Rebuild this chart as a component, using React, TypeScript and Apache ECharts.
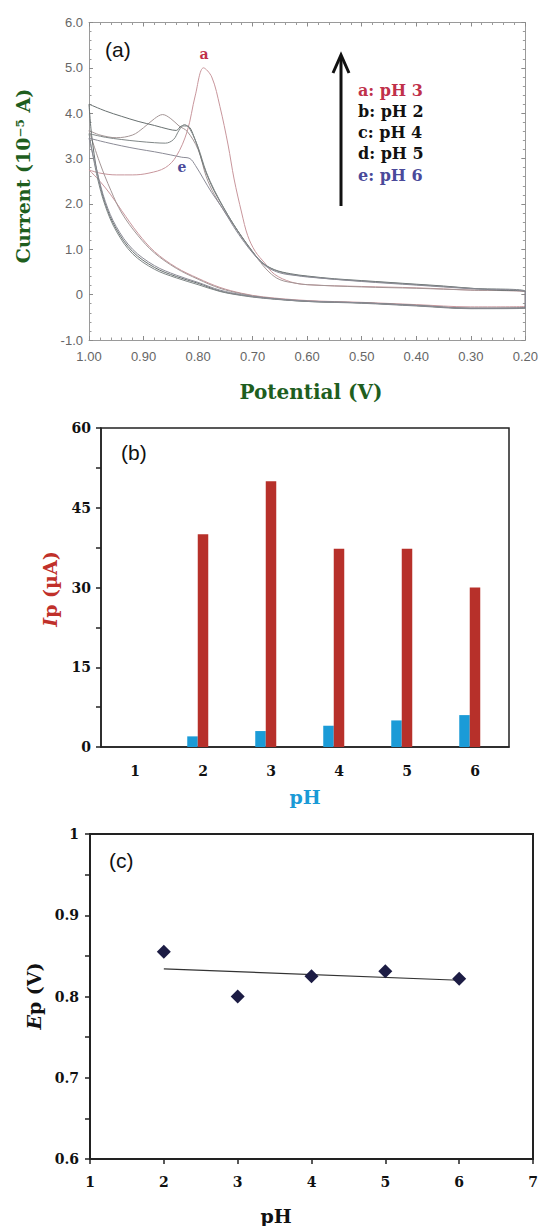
import React, { useEffect, useRef } from "react";
import * as echarts from "echarts";

// ---------- Panel (a): cyclic voltammograms [Potential (V), Current (1e-5 A)] ----------
const cvA_pH3: number[][] = [
  [1.0, 2.75], [0.98, 2.68], [0.95, 2.64], [0.92, 2.64], [0.89, 2.68], [0.86, 2.8], [0.84, 3.05],
  [0.82, 3.6], [0.805, 4.4], [0.79, 5.0], [0.775, 4.8], [0.76, 4.15], [0.745, 3.3], [0.734, 2.55],
  [0.72, 1.8], [0.709, 1.3], [0.695, 0.95], [0.678, 0.7], [0.66, 0.45], [0.63, 0.28], [0.6, 0.22],
  [0.5, 0.18], [0.4, 0.15], [0.3, 0.1], [0.2, 0.06],
  [0.2, -0.26], [0.3, -0.27], [0.4, -0.22], [0.5, -0.17], [0.6, -0.13], [0.68, -0.05], [0.72, 0.03],
  [0.76, 0.16], [0.8, 0.36], [0.84, 0.6], [0.88, 0.95], [0.91, 1.35], [0.94, 1.85], [0.96, 2.2],
  [0.98, 2.5], [1.0, 2.75],
];
const cvB_pH2: number[][] = [
  [1.0, 3.62], [0.98, 3.52], [0.95, 3.46], [0.92, 3.52], [0.9, 3.68], [0.88, 3.88], [0.865, 3.97],
  [0.85, 3.88], [0.835, 3.72], [0.82, 3.6], [0.8, 3.2], [0.785, 2.6], [0.77, 2.2], [0.75, 1.8],
  [0.73, 1.45], [0.71, 1.1], [0.69, 0.78], [0.67, 0.5], [0.65, 0.33], [0.62, 0.25], [0.6, 0.22],
  [0.5, 0.17], [0.4, 0.14], [0.3, 0.1], [0.2, 0.06],
  [0.2, -0.3], [0.3, -0.3], [0.4, -0.23], [0.5, -0.18], [0.6, -0.14], [0.68, -0.06], [0.72, 0.02],
  [0.76, 0.14], [0.8, 0.34], [0.84, 0.58], [0.88, 0.92], [0.91, 1.3], [0.94, 1.8], [0.96, 2.3],
  [0.98, 2.9], [1.0, 3.62],
];
const cvC_pH4: number[][] = [
  [1.0, 4.2], [0.97, 4.05], [0.94, 3.93], [0.91, 3.82], [0.88, 3.73], [0.855, 3.65], [0.84, 3.62],
  [0.83, 3.72], [0.82, 3.72], [0.805, 3.4], [0.79, 2.85], [0.775, 2.4], [0.755, 1.95], [0.735, 1.55],
  [0.72, 1.28], [0.7, 0.95], [0.684, 0.72], [0.66, 0.55], [0.63, 0.46], [0.6, 0.41], [0.55, 0.35],
  [0.5, 0.31], [0.45, 0.27], [0.4, 0.23], [0.35, 0.19], [0.3, 0.14], [0.25, 0.1], [0.2, 0.07],
  [0.2, -0.28], [0.3, -0.3], [0.4, -0.24], [0.5, -0.18], [0.6, -0.15], [0.68, -0.07], [0.72, -0.01],
  [0.76, 0.08], [0.8, 0.25], [0.84, 0.4], [0.88, 0.6], [0.92, 0.95], [0.95, 1.45], [0.97, 2.0],
  [0.985, 2.7], [0.995, 3.5], [1.0, 4.2],
];
const cvD_pH5: number[][] = [
  [1.0, 3.55], [0.97, 3.47], [0.94, 3.42], [0.91, 3.38], [0.88, 3.35], [0.86, 3.34], [0.845, 3.42],
  [0.835, 3.62], [0.825, 3.75], [0.815, 3.65], [0.8, 3.25], [0.785, 2.7], [0.77, 2.3], [0.75, 1.85],
  [0.73, 1.45], [0.71, 1.1], [0.69, 0.8], [0.67, 0.6], [0.64, 0.47], [0.6, 0.4], [0.55, 0.34],
  [0.5, 0.3], [0.4, 0.22], [0.3, 0.14], [0.2, 0.07],
  [0.2, -0.3], [0.3, -0.31], [0.4, -0.25], [0.5, -0.19], [0.6, -0.15], [0.68, -0.08], [0.72, -0.02],
  [0.76, 0.07], [0.8, 0.22], [0.84, 0.37], [0.88, 0.56], [0.92, 0.9], [0.95, 1.4], [0.97, 1.95],
  [0.985, 2.6], [1.0, 3.55],
];
const cvE_pH6: number[][] = [
  [1.0, 3.45], [0.97, 3.36], [0.94, 3.28], [0.91, 3.21], [0.88, 3.15], [0.85, 3.08], [0.83, 3.03],
  [0.815, 3.0], [0.805, 2.85], [0.79, 2.55], [0.775, 2.25], [0.755, 1.9], [0.735, 1.5], [0.715, 1.15],
  [0.695, 0.85], [0.675, 0.62], [0.65, 0.48], [0.62, 0.42], [0.6, 0.39], [0.5, 0.29], [0.4, 0.21],
  [0.3, 0.13], [0.2, 0.06],
  [0.2, -0.29], [0.3, -0.3], [0.4, -0.24], [0.5, -0.18], [0.6, -0.14], [0.68, -0.07], [0.72, 0.0],
  [0.76, 0.1], [0.8, 0.27], [0.84, 0.43], [0.88, 0.64], [0.92, 1.0], [0.95, 1.5], [0.97, 2.05],
  [0.985, 2.7], [1.0, 3.45],
];
const legendLines = ["a: pH 3", "b: pH 2", "c: pH 4", "d: pH 5", "e: pH 6"];

// ---------- Panel (b): peak currents ----------
const pHCategories = ["1", "2", "3", "4", "5", "6"];
const ipBlue: (number | null)[] = [null, 2, 3, 4, 5, 6];
const ipRed: (number | null)[] = [null, 40, 50, 37.3, 37.3, 30];
const ipSpacer: (number | null)[] = [null, null, null, null, null, null];

// ---------- Panel (c): peak potentials ----------
const epPoints: number[][] = [[2, 0.855], [3, 0.8], [4, 0.825], [5, 0.831], [6, 0.822]];
const epTrend: number[][] = [[2, 0.834], [6, 0.82]];

const SERIF = '"DejaVu Serif"';
const SANS = '"Liberation Sans", Arial';

export default function App() {
  const ref = useRef<HTMLDivElement>(null);
  useEffect(() => {
    document.body.style.margin = "0";
    const chart = echarts.init(ref.current!, undefined, { renderer: "svg" });

    const cvAxisX = (pos: "top" | "bottom", showLabel: boolean) => ({
      type: "value", gridIndex: 0, position: pos, min: 0.2, max: 1.0, interval: 0.1, inverse: true,
      axisLine: { show: true, onZero: false, lineStyle: { color: "#9a9a9a", width: 1 } },
      axisTick: { show: true, inside: true, length: 4, lineStyle: { color: "#8a8a8a" } },
      minorTick: { show: true, splitNumber: 5, length: 2.5, lineStyle: { color: "#9a9a9a" } },
      splitLine: { show: false },
      axisLabel: {
        show: showLabel, margin: 10, fontSize: 13, fontFamily: SANS, color: "#666",
        formatter: (v: number) => v.toFixed(2),
      },
    });
    const cvAxisY = (pos: "left" | "right", showLabel: boolean) => ({
      type: "value", gridIndex: 0, position: pos, min: -1, max: 6, interval: 1,
      axisLine: { show: true, onZero: false, lineStyle: { color: "#9a9a9a", width: 1 } },
      axisTick: { show: true, inside: true, length: 4, lineStyle: { color: "#8a8a8a" } },
      minorTick: { show: true, splitNumber: 5, length: 2.5, lineStyle: { color: "#9a9a9a" } },
      splitLine: { show: false },
      axisLabel: {
        show: showLabel, margin: 6, fontSize: 13, fontFamily: SANS, color: "#666",
        formatter: (v: number) => (v === 0 ? "0" : v.toFixed(1)),
      },
    });

    const boldLabel = { fontFamily: SERIF, fontWeight: "bold", fontSize: 14, color: "#111" };

    const cvColors = ["#c8969c", "#a39595", "#687070", "#7f8686", "#8b8b96"];
    const cvData = [cvA_pH3, cvB_pH2, cvC_pH4, cvD_pH5, cvE_pH6];

    const txt = (x: number, y: number, text: string, font: string, fill: string, extra: any = {}) => ({
      type: "text", x, y, ...extra,
      style: {
        text, font, fill,
        align: extra.align || "left", verticalAlign: "middle",
        textAlign: extra.align || "left", textVerticalAlign: "middle",
        ...(extra.style || {}),
      },
    });

    const option: any = {
      animation: false,
      grid: [
        { left: 89, top: 22.5, width: 438, height: 317.5 },
        { left: 101, top: 428, width: 408, height: 319, show: true, borderColor: "#222", borderWidth: 1.5 },
        { left: 90, top: 834, width: 443, height: 325, show: true, borderColor: "#222", borderWidth: 2 },
      ],
      xAxis: [
        cvAxisX("bottom", true),
        cvAxisX("top", false),
        {
          type: "category", gridIndex: 1, data: pHCategories,
          axisLine: { show: true, lineStyle: { color: "#222", width: 1.5 } },
          axisTick: { show: false },
          axisLabel: { ...boldLabel, margin: 17 },
        },
        {
          type: "value", gridIndex: 2, min: 1, max: 7, interval: 1,
          axisLine: { show: true, onZero: false, lineStyle: { color: "#222", width: 2 } },
          axisTick: { show: true, inside: false, length: 5, lineStyle: { color: "#222", width: 1.5 } },
          splitLine: { show: false },
          axisLabel: { ...boldLabel, margin: 16 },
        },
      ],
      yAxis: [
        cvAxisY("left", true),
        cvAxisY("right", false),
        {
          type: "value", gridIndex: 1, min: 0, max: 60, interval: 15,
          axisLine: { show: true, lineStyle: { color: "#222", width: 1.5 } },
          axisTick: { show: true, inside: false, length: 5, lineStyle: { color: "#222", width: 1.5 } },
          minorTick: { show: true, splitNumber: 2, length: 5, lineStyle: { color: "#222", width: 1.5 } },
          splitLine: { show: false },
          axisLabel: { ...boldLabel, margin: 10 },
        },
        {
          type: "value", gridIndex: 2, min: 0.6, max: 1, interval: 0.1,
          axisLine: { show: true, onZero: false, lineStyle: { color: "#222", width: 2 } },
          axisTick: { show: true, inside: false, length: 5, lineStyle: { color: "#222", width: 1.5 } },
          minorTick: { show: true, splitNumber: 2, length: 5, lineStyle: { color: "#222", width: 1.5 } },
          splitLine: { show: false },
          axisLabel: {
            ...boldLabel, margin: 11,
            formatter: (v: number) => (Math.abs(v - 1) < 1e-9 ? "1" : v.toFixed(1)),
          },
        },
      ],
      series: [
        ...cvData.map((d, i) => ({
          type: "line", xAxisIndex: 0, yAxisIndex: 0, data: d, smooth: 0.35,
          symbol: "none", lineStyle: { width: 1, color: cvColors[i] }, z: 2,
        })),
        {
          type: "bar", name: "blue", xAxisIndex: 2, yAxisIndex: 2, data: ipBlue,
          barWidth: 10.5, barGap: "0%", itemStyle: { color: "#1b9bd7" },
        },
        {
          type: "bar", name: "red", xAxisIndex: 2, yAxisIndex: 2, data: ipRed,
          barWidth: 10.5, barGap: "0%", itemStyle: { color: "#b7302a" },
        },
        {
          type: "bar", name: "spacer", xAxisIndex: 2, yAxisIndex: 2, data: ipSpacer,
          barWidth: 10.5, barGap: "0%", itemStyle: { color: "transparent" },
        },
        {
          type: "line", xAxisIndex: 3, yAxisIndex: 3, data: epTrend, symbol: "none",
          lineStyle: { color: "#333", width: 1.2 }, z: 2,
        },
        {
          type: "scatter", xAxisIndex: 3, yAxisIndex: 3, data: epPoints, symbol: "diamond",
          symbolSize: 14, itemStyle: { color: "#1c1c44", opacity: 1 }, z: 3,
        },
      ],
      graphic: [
        // panel (a)
        txt(105, 49, "(a)", `21px ${SANS}`, "#111"),
        txt(204, 54, "a", `bold 14px ${SERIF}`, "#c0304a", { align: "center" }),
        txt(182, 167, "e", `bold 14px ${SERIF}`, "#4a4a9a", { align: "center" }),
        ...legendLines.map((t, i) =>
          txt(358, [90, 111, 132.5, 153, 175][i], t, `bold 16px ${SERIF}`,
            i === 0 ? "#c0304a" : i === 4 ? "#4a4a9a" : "#111")),
        { type: "line", shape: { x1: 341, y1: 206, x2: 341, y2: 57 }, style: { stroke: "#111", lineWidth: 3 } },
        {
          type: "polyline", shape: { points: [[333, 73], [341, 55], [349, 73]] },
          style: { stroke: "#111", lineWidth: 3, fill: null },
        },
        txt(311, 392, "Potential (V)", `bold 20px ${SERIF}`, "#1e5e1e", { align: "center" }),
        txt(23, 176, "Current (10⁻⁵ A)", `bold 19px ${SERIF}`, "#1e5e1e", { align: "center", rotation: Math.PI / 2 }),
        // panel (b)
        txt(121, 452, "(b)", `21px ${SANS}`, "#111"),
        txt(305, 797, "pH", `bold 19px ${SERIF}`, "#1a9ad6", { align: "center" }),
        {
          type: "text", x: 50, y: 589, rotation: Math.PI / 2,
          style: {
            text: "{i|I}{r|p (µA)}", fill: "#c0302a", font: `bold 19px ${SERIF}`,
            align: "center", verticalAlign: "middle", textAlign: "center", textVerticalAlign: "middle",
            rich: {
              i: { fontFamily: SERIF, fontWeight: "bold", fontStyle: "italic", fontSize: 19, fill: "#c0302a", color: "#c0302a" },
              r: { fontFamily: SERIF, fontWeight: "bold", fontSize: 19, fill: "#c0302a", color: "#c0302a" },
            },
          },
        },
        // panel (c)
        txt(109, 860, "(c)", `21px ${SANS}`, "#111"),
        txt(276, 1216, "pH", `bold 19px ${SERIF}`, "#111", { align: "center" }),
        {
          type: "text", x: 34, y: 996, rotation: Math.PI / 2,
          style: {
            text: "{i|E}{r|p (V)}", fill: "#111", font: `bold 19px ${SERIF}`,
            align: "center", verticalAlign: "middle", textAlign: "center", textVerticalAlign: "middle",
            rich: {
              i: { fontFamily: SERIF, fontWeight: "bold", fontStyle: "italic", fontSize: 19, fill: "#111", color: "#111" },
              r: { fontFamily: SERIF, fontWeight: "bold", fontSize: 19, fill: "#111", color: "#111" },
            },
          },
        },
      ],
    };
    chart.setOption(option);
    return () => chart.dispose();
  }, []);
  return <div ref={ref} style={{ width: 541, height: 1226, background: "#fff" }} />;
}
